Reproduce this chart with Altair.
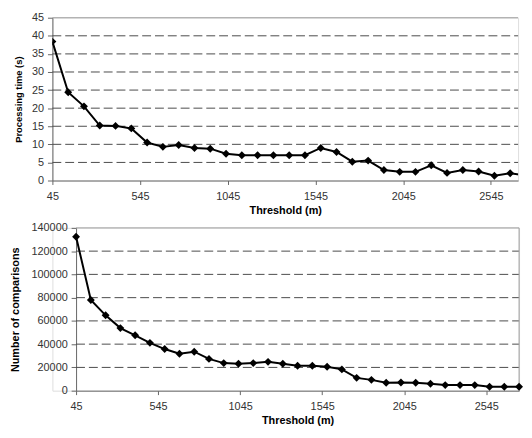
import altair as alt
import pandas as pd

# ---- data ----
thresholds = [45, 135, 225, 315, 405, 495, 585, 675, 765, 855, 945, 1035, 1125,
              1215, 1305, 1395, 1485, 1575, 1665, 1755, 1845, 1935, 2025, 2115,
              2205, 2295, 2385, 2475, 2565, 2655, 2745]
processing_time = [38.4, 24.4, 20.5, 15.2, 15.1, 14.4, 10.5, 9.3, 9.8, 9.0, 8.8,
                   7.4, 7.0, 7.0, 7.0, 7.0, 7.0, 9.0, 7.9, 5.2, 5.5, 2.9, 2.4,
                   2.4, 4.2, 2.1, 2.9, 2.5, 1.3, 2.0, 1.4]
comparisons = [132400, 78000, 64800, 53800, 47600, 41100, 35800, 31800, 33500,
               27300, 23700, 23100, 23700, 24800, 23100, 21400, 21400, 20600,
               18300, 11000, 9300, 6800, 7000, 6800, 5900, 4800, 4800, 4800,
               3400, 3400, 3400]

x_ticks = [45, 545, 1045, 1545, 2045, 2545]
top_x_domain = [45, 2700]      # top panel is cut off at the right edge
bottom_x_domain = [45, 2745]
time_ticks = [0, 5, 10, 15, 20, 25, 30, 35, 40, 45]
time_grid = [5, 10, 15, 20, 25, 30, 35, 40]
comp_ticks = [0, 20000, 40000, 60000, 80000, 100000, 120000, 140000]
comp_grid = [20000, 40000, 60000, 80000, 100000, 120000]

FONT = "Liberation Sans"
AXIS_COL = "#666666"
LABEL_COL = "#333333"
GRID_COL = "#4a4a4a"
BORDER_COL = "#a0a0a0"


def panel(values, y_title, y_title_size, y_ticks, grid_vals, x_domain, plot_w,
          height, shift, y_title_pad, right_border, clip):
    ymax = y_ticks[-1]
    x_scale = alt.Scale(domain=x_domain, nice=False, zero=False,
                        range=[shift, shift + plot_w])
    x_enc = alt.X(
        "threshold:Q", scale=x_scale,
        axis=alt.Axis(values=x_ticks, title="Threshold (m)", grid=False,
                      tickSize=4, labelPadding=6, titlePadding=3,
                      domainColor=AXIS_COL, tickColor=AXIS_COL,
                      labelColor=LABEL_COL, labelFontSize=11, labelFont=FONT,
                      titleFont=FONT, titleFontSize=11, titleFontWeight="bold",
                      titleColor="black", labelFlush=False, labelOverlap=False,
                      format="d"),
    )
    y_enc = alt.Y(
        "value:Q",
        scale=alt.Scale(domain=[0, ymax], nice=False, zero=True),
        axis=alt.Axis(values=y_ticks, title=y_title, grid=False, offset=-shift,
                      tickSize=5, labelPadding=4, titlePadding=y_title_pad,
                      domainColor=AXIS_COL, tickColor=AXIS_COL,
                      labelColor=LABEL_COL, labelFontSize=11, labelFont=FONT,
                      titleFont=FONT, titleFontSize=y_title_size,
                      titleFontWeight="bold", titleColor="black",
                      labelOverlap=False, labelFlush=False, format="d"),
    )
    df = pd.DataFrame({"threshold": thresholds, "value": values})
    grid_df = pd.DataFrame({"threshold": [x_domain[0]] * len(grid_vals),
                            "x_end": [x_domain[1]] * len(grid_vals),
                            "value": grid_vals})
    top_df = pd.DataFrame({"threshold": [x_domain[0]], "x_end": [x_domain[1]],
                           "value": [ymax]})
    grid = alt.Chart(grid_df).mark_rule(
        color=GRID_COL, strokeWidth=1, strokeDash=[9, 4]
    ).encode(x=x_enc, x2="x_end:Q", y=y_enc)
    top_border = alt.Chart(top_df).mark_rule(color=BORDER_COL, strokeWidth=1).encode(
        x=x_enc, x2="x_end:Q", y=y_enc)
    layers = [grid, top_border]
    if right_border:
        rb_df = pd.DataFrame({"threshold": [x_domain[1]], "value": [0], "y_end": [ymax]})
        rb = alt.Chart(rb_df).mark_rule(color=BORDER_COL, strokeWidth=1).encode(
            x=x_enc, y=y_enc, y2="y_end:Q")
        layers.append(rb)
    line = alt.Chart(df).mark_line(color="black", strokeWidth=2, clip=clip).encode(
        x=x_enc, y=y_enc)
    pts = alt.Chart(df).mark_point(shape="diamond", filled=True, color="black",
                                   size=64, opacity=1, clip=clip).encode(
        x=x_enc, y=y_enc)
    return alt.layer(*layers, line, pts).properties(width=shift + plot_w, height=height)


top = panel(processing_time, "Processing time (s)", 9.5, time_ticks, time_grid,
            top_x_domain, 472, 165, 0, 8, False, True)
bottom = panel(comparisons, "Number of comparisons", 11, comp_ticks, comp_grid,
               bottom_x_domain, 449, 165, 24, 11, True, False)

chart = alt.vconcat(top, bottom, spacing=5).properties(
    padding={"left": 0, "top": 0, "right": 0, "bottom": 0}
).configure_view(stroke=None).configure(background="white")

chart.save("out.html", embed_options={"renderer": "svg", "actions": False})
